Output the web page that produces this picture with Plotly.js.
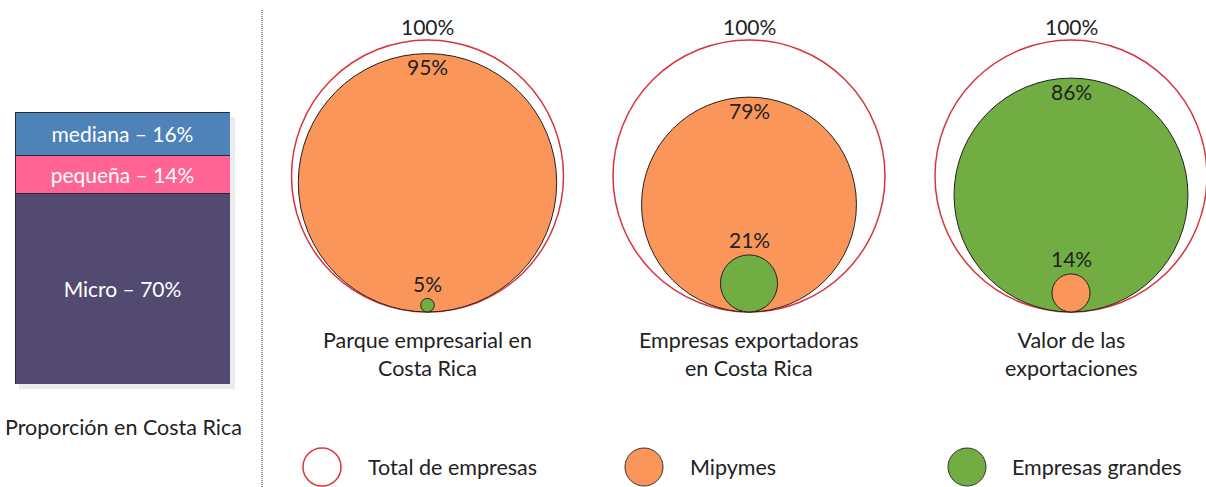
<!DOCTYPE html>
<html>
<head>
<meta charset="utf-8">
<script src="https://cdn.plot.ly/plotly-3.0.1.min.js"></script>
<style>html,body{margin:0;padding:0;background:#fff;}#chart{width:1206px;height:487px;}</style>
</head>
<body>
<div id="chart"></div>
<script>
// ---- data ----
const groupLabels = ["Parque empresarial en<br>Costa Rica", "Empresas exportadoras<br>en Costa Rica", "Valor de las<br>exportaciones"];
const totalPct = [100, 100, 100];
const mipymesPct = [95, 79, 14];
const grandesPct = [5, 21, 86];
const barCategories = ["Micro", "pequeña", "mediana"];
const barValues = [70, 14, 16];
const barTitle = "Proporción en Costa Rica";
const legendLabels = ["Total de empresas", "Mipymes", "Empresas grandes"];

// ---- styles / layout constants ----
const FONT = "Lato, 'Open Sans', sans-serif";
const C_TOTAL = "#d9343c", C_MIPY = "#fa9659", C_GRAN = "#71ad43";
const barColors = ["#534a72", "#ff6494", "#4d83b8"];
const centers = [427.5, 749, 1071];
const BASE_Y = 312, D100 = 272;

const shapes = [];
const annotations = [];
const ann = (x, y, text, opts) => annotations.push(Object.assign({
  x, y, xref: "x", yref: "y", text, showarrow: false,
  font: {family: FONT, size: 21, color: "#222"}, xanchor: "center", yanchor: "middle"
}, opts || {}));
const LBL = {family: FONT, size: 21.5, color: "#222"};

function circ(cx, pct, fill, line, lw) {
  const d = pct / 100 * D100;
  shapes.push({type: "circle", xref: "x", yref: "y",
    x0: cx - d / 2, x1: cx + d / 2, y0: BASE_Y - d, y1: BASE_Y,
    fillcolor: fill, line: {color: line, width: lw}});
  return d;
}

for (let i = 0; i < centers.length; i++) {
  const cx = centers[i];
  const dT = circ(cx, totalPct[i], "rgba(0,0,0,0)", C_TOTAL, 1.5);
  ann(cx, BASE_Y - dT - 14, totalPct[i] + "%");
  const items = [
    {v: mipymesPct[i], c: C_MIPY},
    {v: grandesPct[i], c: C_GRAN}
  ].sort((a, b) => b.v - a.v);
  const dBig = circ(cx, items[0].v, items[0].c, "#222", 1);
  const dSmall = circ(cx, items[1].v, items[1].c, "#222", 1);
  ann(cx, BASE_Y - dBig + 13, items[0].v + "%");
  ann(cx, BASE_Y - dSmall - 15, items[1].v + "%");
  ann(cx, 354, groupLabels[i], {font: LBL});
}

// divider
shapes.push({type: "line", xref: "x", yref: "y", x0: 262, x1: 262, y0: 10, y1: 487,
  line: {color: "#333", width: 1, dash: "1px,1px"}});

// bar shadow
shapes.push({type: "rect", xref: "x", yref: "y", x0: 19, x1: 235, y0: 117, y1: 389,
  fillcolor: "#ebebf0", line: {width: 0}, layer: "below"});

// legend
const legX = [322, 644, 967];
const legFill = ["rgba(0,0,0,0)", C_MIPY, C_GRAN];
const legLine = [C_TOTAL, "#333", "#333"];
const legTextX = [366, 688, 1010];
for (let i = 0; i < 3; i++) {
  shapes.push({type: "circle", xref: "x", yref: "y", x0: legX[i] - 19, x1: legX[i] + 19,
    y0: 448, y1: 486, fillcolor: legFill[i], line: {color: legLine[i], width: i === 0 ? 1.5 : 1}});
  ann(legTextX[i], 467, legendLabels[i], {xanchor: "left", font: LBL});
}

ann(123, 427, barTitle, {font: LBL});

const traces = barCategories.map((c, i) => ({
  type: "bar", x: [0], y: [barValues[i]], xaxis: "x2", yaxis: "y2",
  width: [1], text: [c + " – " + barValues[i] + "%"],
  textposition: "inside", insidetextanchor: "middle", textangle: 0,
  textfont: {family: FONT, size: 21, color: "#fff"},
  marker: {color: barColors[i], line: {color: "#2a2a35", width: 1}},
  hoverinfo: "none", showlegend: false
}));

const H = 487;
const layout = {
  width: 1206, height: 487, margin: {l: 0, r: 0, t: 0, b: 0},
  paper_bgcolor: "#fff", plot_bgcolor: "rgba(0,0,0,0)",
  showlegend: false, barmode: "stack", bargap: 0,
  xaxis: {range: [0, 1206], visible: false, fixedrange: true, domain: [0, 1]},
  yaxis: {range: [487, 0], visible: false, fixedrange: true, domain: [0, 1]},
  xaxis2: {range: [-0.5, 0.5], visible: false, domain: [15 / 1206, 230 / 1206], anchor: "y2"},
  yaxis2: {range: [0, 100], visible: false, domain: [1 - 384 / H, 1 - 112 / H], anchor: "x2"},
  shapes, annotations,
  uniformtext: {mode: false}
};
Plotly.newPlot("chart", traces, layout, {displayModeBar: false, staticPlot: true});
</script>
</body>
</html>
